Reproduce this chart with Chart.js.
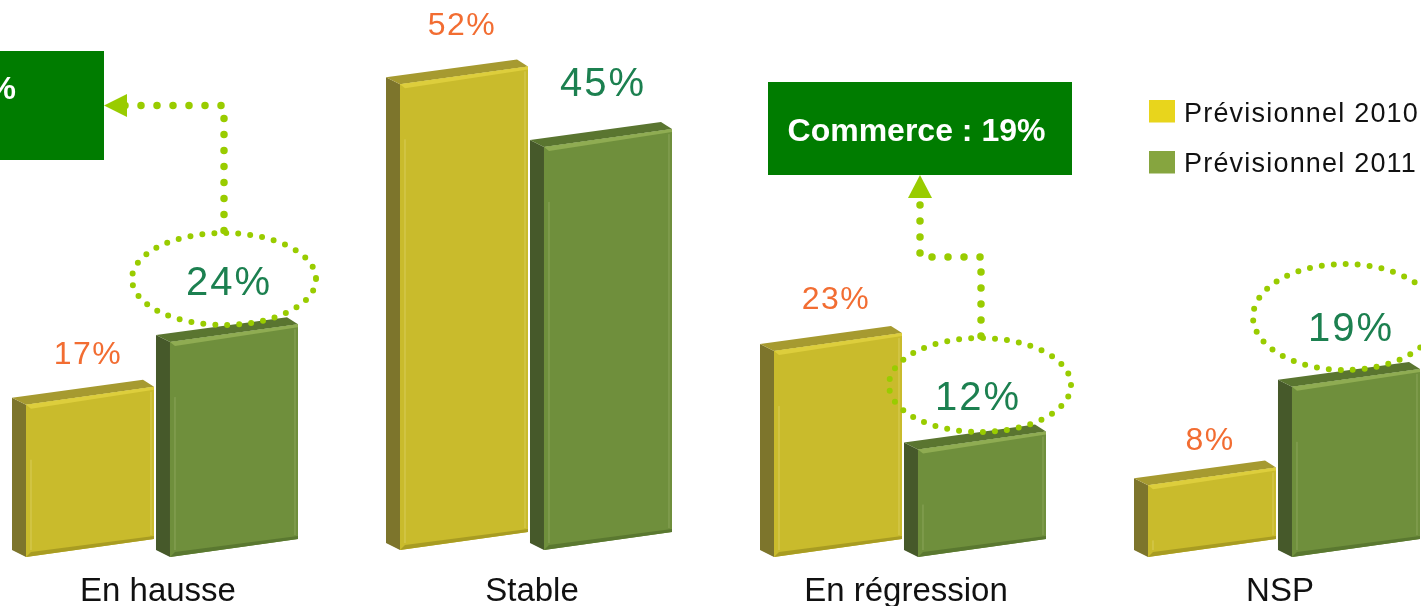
<!DOCTYPE html>
<html lang="fr">
<head>
<meta charset="utf-8">
<style>
html,body{margin:0;padding:0;width:1421px;height:606px;overflow:hidden;background:#fff}
#wrap{position:relative;width:1421px;height:606px;overflow:hidden}
#c{position:absolute;left:-25px;top:0;display:block;filter:blur(0.5px)}
</style>
<script src="https://cdn.jsdelivr.net/npm/chart.js@4/dist/chart.umd.js"></script>
</head>
<body>
<div id="wrap"><canvas id="c" width="1496" height="606"></canvas></div>
<script>
const categories = ["En hausse", "Stable", "En régression", "NSP"];
const seriesNames = ["Prévisionnel 2010", "Prévisionnel 2011"];
const previsionnel2010 = [17, 52, 23, 8];
const previsionnel2011 = [24, 45, 12, 19];
const callout = "Commerce : 19%";
const clippedCallout = "%";

const FONT = '"Liberation Sans", Arial, sans-serif';
const OX = 25; // the chart runs past the window's left edge
const SLOPE = 0.14;
const CATEGORY_LIFT = [0, 7, 0, 0];
const FACES = {
  "#c9bb2c": {top:"#a69a30", side:"#7d752c", hi:"#ddce3c", low:"#a89c22", edge:"#d8cc58"},
  "#6f8f3c": {top:"#5a7530", side:"#46592a", hi:"#8fac52", low:"#5a7830", edge:"#8aa55a"}
};
function poly(ctx, pts, fill){
  ctx.beginPath();
  pts.forEach((p,i)=> i?ctx.lineTo(p[0],p[1]):ctx.moveTo(p[0],p[1]));
  ctx.closePath(); ctx.fillStyle = fill; ctx.fill();
}
function corners(el){
  const lift = CATEGORY_LIFT[el.categoryIndex] || 0;
  const l = el.x - el.width/2, r = el.x + el.width/2, d = SLOPE*el.width;
  return {l, r, tl:el.y-lift, tr:el.y-lift-d, bl:el.base-lift, br:el.base-lift-d};
}
// Bars keep their scale geometry, but are painted as the reference's bevelled 3D blocks.
Chart.BarElement.prototype.draw = function(ctx){
  const c = corners(this), col = this.options.backgroundColor, f = FACES[col];
  ctx.save();
  poly(ctx, [[c.l-14,c.tl-7],[c.l,c.tl],[c.l,c.bl],[c.l-14,c.bl-7]], f.side);
  poly(ctx, [[c.l-14,c.tl-7],[c.r-11,c.tr-7],[c.r,c.tr],[c.l,c.tl]], f.top);
  poly(ctx, [[c.l,c.tl],[c.r,c.tr],[c.r,c.br],[c.l,c.bl]], col);
  poly(ctx, [[c.l,c.tl],[c.r,c.tr],[c.r,c.tr+3],[c.l+5,c.tl+4]], f.hi);
  poly(ctx, [[c.l,c.bl],[c.r,c.br],[c.r,c.br-3],[c.l+5,c.bl-5]], f.low);
  ctx.strokeStyle = f.edge; ctx.lineWidth = 1;
  ctx.beginPath();
  ctx.moveTo(c.r-3,c.tr+5); ctx.lineTo(c.r-3,c.br-4);
  ctx.moveTo(c.l+5,c.tl+60>c.bl-8?c.tl+8:c.tl+55); ctx.lineTo(c.l+5,c.bl-7);
  ctx.stroke();
  ctx.restore();
};

const LABEL_OFFSETS = [
  [[-2,-50],[-2,-58],[-2,-51],[-2,-44]],
  [[-5,-58],[-5,-62],[-4,-51],[-5,-57]]
];
function dotted(ctx, pts, gap, w){
  ctx.save();
  ctx.strokeStyle="#99cc00"; ctx.lineWidth=w; ctx.lineCap="round"; ctx.setLineDash([0,gap]);
  ctx.beginPath();
  pts.forEach((p,i)=> i?ctx.lineTo(p[0],p[1]):ctx.moveTo(p[0],p[1]));
  ctx.stroke(); ctx.restore();
}
function ellipse(ctx,x,y,rx,ry){
  ctx.save();
  ctx.strokeStyle="#99cc00"; ctx.lineWidth=6; ctx.lineCap="round"; ctx.setLineDash([0,12]);
  ctx.beginPath(); ctx.ellipse(x,y,rx,ry,0,0,Math.PI*2); ctx.stroke(); ctx.restore();
}
const overlay = {
  id:"overlay",
  beforeDatasetsDraw(chart){
    chart.data.datasets.forEach((ds,di)=>{
      chart.getDatasetMeta(di).data.forEach((el,i)=>{ el.categoryIndex = i; });
    });
  },
  afterDatasetsDraw(chart){
    const ctx = chart.ctx;
    ctx.save();
    ctx.translate(OX,0);
    // value labels
    ctx.textAlign="center"; ctx.textBaseline="middle";
    chart.data.datasets.forEach((ds,di)=>{
      chart.getDatasetMeta(di).data.forEach((el,i)=>{
        const c = corners(el), o = LABEL_OFFSETS[di][i];
        ctx.font = (di===0?"32px ":"40px ")+FONT;
        ctx.letterSpacing = di===0?"1.5px":"2px";
        ctx.fillStyle = di===0?"#f26d32":"#1c8050";
        ctx.fillText(ds.data[i]+"%", el.x-OX+o[0], c.tl+o[1]);
      });
    });
    ctx.letterSpacing="0px";
    // ellipses and connectors
    ellipse(ctx,224,279,92,46);
    ellipse(ctx,980,385,91,47);
    ellipse(ctx,1345,317,92,53);
    dotted(ctx,[[125,105.5],[224,105.5],[224,231]],16,7.5);
    dotted(ctx,[[920,205],[920,257],[981,257],[981,337]],16,7.5);
    // callouts
    ctx.fillStyle="#007c00";
    ctx.fillRect(-OX,51,104+OX,109);
    ctx.fillRect(768,82,304,93);
    poly(ctx,[[104,105.5],[127,94],[127,117]],"#99cc00");
    poly(ctx,[[920,175],[908,198],[932,198]],"#99cc00");
    ctx.fillStyle="#fff"; ctx.font="bold 32px "+FONT;
    ctx.textAlign="center";
    ctx.fillText(callout,916.5,132);
    ctx.textAlign="right";
    ctx.fillText(clippedCallout,16,90);
    // legend
    ctx.textAlign="left"; ctx.font="27px "+FONT; ctx.letterSpacing="1.2px";
    const swatches=["#e8d51c","#86a53f"];
    seriesNames.forEach((n,i)=>{
      ctx.fillStyle=swatches[i];
      ctx.fillRect(1149,100+i*51,26,22.5);
      ctx.fillStyle="#111";
      ctx.fillText(n,1184,115+i*50);
    });
    ctx.restore();
  }
};
new Chart(document.getElementById("c"),{
  type:"bar",
  data:{
    labels:categories,
    datasets:[
      {label:seriesNames[0],data:previsionnel2010,backgroundColor:"#c9bb2c"},
      {label:seriesNames[1],data:previsionnel2011,backgroundColor:"#6f8f3c"}
    ]
  },
  options:{
    responsive:false,
    animation:false,
    devicePixelRatio:1,
    layout:{padding:0},
    datasets:{bar:{categoryPercentage:0.77,barPercentage:0.889,borderWidth:0}},
    plugins:{legend:{display:false},tooltip:{enabled:false},title:{display:false}},
    scales:{
      x:{
        grid:{display:false,drawTicks:false},
        border:{display:false},
        afterFit(s){s.height=49;},
        ticks:{color:"#111",font:{family:FONT,size:33},padding:15,labelOffset:-4,autoSkip:false,maxRotation:0,minRotation:0}
      },
      y:{display:false,min:0,max:62.2}
    }
  },
  plugins:[overlay]
});
</script>
</body>
</html>
